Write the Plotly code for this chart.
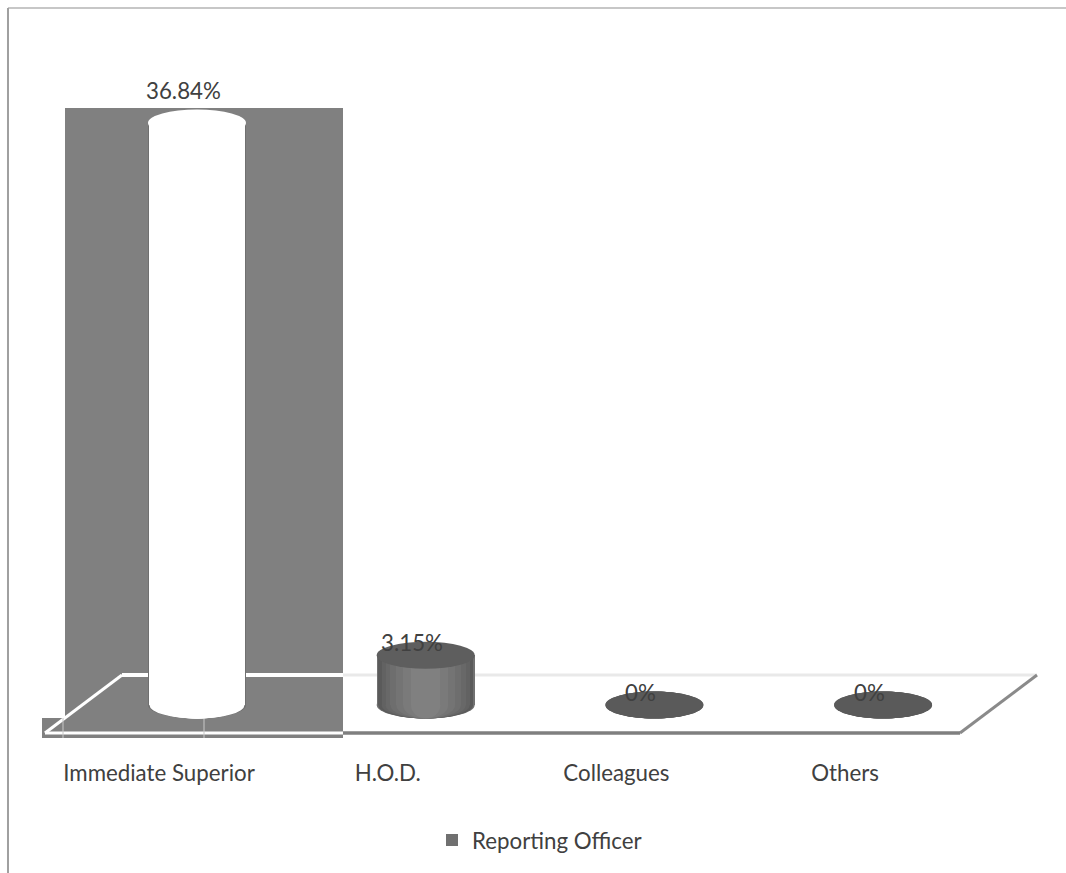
import plotly.graph_objects as go

# Survey shares by reporting line
categories = ["Immediate Superior", "H.O.D.", "Colleagues", "Others"]
shares = [36.84, 3.15, 0, 0]
series_name = "Reporting Officer"

WIDTH, HEIGHT = 1066, 873
PLOT_BOTTOM = 738          # pixel row of the plot area's lower edge
BASE_ROW = 705             # pixel row of the value 0
UNIT = 15.8                # pixels per percentage point
FIRST_COL, STEP = 197, 228.7
BAR_W = 98 / STEP
CAP = 13.5 / UNIT          # half height of a cylinder cap, in value units
FONT = "Lato"
FONT_SIZE = 22.3
INK = "#404040"


def px(col):
    return col / WIDTH


def py(row):
    return (PLOT_BOTTOM - row) / PLOT_BOTTOM


positions = list(range(len(categories)))
fig = go.Figure()

# Each cylinder body is a stack of narrowing bars, which shades it towards the middle
widths = [1.00, 0.97, 0.90, 0.82, 0.72, 0.60, 0.46, 0.30]
greys = ["#707070", "#5a5a5a", "#626262", "#686868", "#6e6e6e", "#747474", "#7a7a7a", "#808080"]
layers = [
    (scale, ["#707070"] * 4 if idx == 0 else ["#ffffff", grey, grey, grey])
    for idx, (scale, grey) in enumerate(zip(widths, greys))
]
for idx, (scale, colors) in enumerate(layers):
    fig.add_trace(go.Bar(
        x=positions, y=shares, width=BAR_W * scale,
        marker=dict(color=colors, line=dict(width=0)),
        name=series_name, showlegend=idx == 0, hoverinfo="skip",
    ))


def pixel_line(points, color, width=3):
    path = "M " + " L ".join(f"{px(c):.5f},{py(r):.5f}" for c, r in points)
    return dict(type="path", path=path, xref="paper", yref="paper",
                line=dict(color=color, width=width), layer="below")


def pixel_rect(c0, r0, c1, r1, color):
    return dict(type="rect", xref="paper", yref="paper", x0=px(c0), x1=px(c1),
                y0=py(r1), y1=py(r0), fillcolor=color, line=dict(width=0), layer="below")


shapes = [
    # back wall behind the first cylinder and its step at the lower left
    pixel_rect(65, 108, 343, 738, "#808080"),
    pixel_rect(42, 718, 65, 738, "#808080"),
    # floor outline: light on the wall, grey on the white page
    pixel_line([(343, 675), (1037, 675)], "#e9e9e9"),
    pixel_line([(343, 733), (960, 733)], "#7f7f7f", 3.5),
    pixel_line([(960, 733), (1037, 675)], "#8a8a8a", 3),
    pixel_line([(122, 675), (343, 675)], "#ffffff", 4),
    pixel_line([(45, 733), (343, 733)], "#ffffff", 3),
    pixel_line([(45, 733), (122, 675)], "#ffffff", 3),
    pixel_line([(63, 718), (63, 738)], "#c8c8c8", 1),
    pixel_line([(204, 715), (204, 738)], "#c8c8c8", 1),
    # outer frame
    pixel_line([(8, 8), (1066, 8)], "#b5b5b5", 1.5),
    pixel_line([(8, 8), (8, 873)], "#a0a0a0", 2),
]

# Elliptical caps: the base caps lie under the bars, so only their lower half shows
# and the body's shading runs on round the curve; the top caps lie over the bars
top_colors = ["#ffffff", "#5e5e5e", "#5a5a5a", "#5a5a5a"]
for pos, share, top in zip(positions, shares, top_colors):
    half = BAR_W / 2
    for scale, colors in layers:
        shapes.append(dict(type="circle", xref="x", yref="y", layer="below",
                           x0=pos - half * scale, x1=pos + half * scale,
                           y0=-CAP, y1=CAP, fillcolor=colors[pos], line=dict(width=0)))
    shapes.append(dict(type="circle", xref="x", yref="y", x0=pos - half, x1=pos + half,
                       y0=share - CAP, y1=share + CAP, fillcolor=top, line=dict(width=0)))

# Value labels sit left of centre, above each cylinder top
annotations = [
    dict(x=pos, y=share, xref="x", yref="y", text=f"{share:g}%", showarrow=False,
         xshift=-14, yshift=32 if share > 10 else 13,
         font=dict(family=FONT, size=FONT_SIZE, color=INK))
    for pos, share in zip(positions, shares)
]

fig.update_layout(
    width=WIDTH, height=HEIGHT,
    margin=dict(l=0, r=0, t=0, b=HEIGHT - PLOT_BOTTOM, autoexpand=False),
    paper_bgcolor="white", plot_bgcolor="rgba(0,0,0,0)",
    barmode="overlay", bargap=0,
    shapes=shapes, annotations=annotations,
    xaxis=dict(
        range=[-FIRST_COL / STEP, (WIDTH - FIRST_COL) / STEP],
        tickmode="array",
        tickvals=[pos - 38 / STEP for pos in positions],
        ticktext=categories,
        tickfont=dict(family=FONT, size=FONT_SIZE, color=INK),
        ticks="outside", ticklen=15, tickcolor="rgba(0,0,0,0)",
        showgrid=False, zeroline=False, showline=False,
    ),
    yaxis=dict(
        range=[(BASE_ROW - PLOT_BOTTOM) / UNIT, BASE_ROW / UNIT],
        visible=False,
    ),
    legend=dict(
        x=px(432), y=py(819), xanchor="left", yanchor="top",
        orientation="h", itemwidth=30,
        font=dict(family=FONT, size=FONT_SIZE, color=INK),
        bgcolor="rgba(0,0,0,0)",
    ),
)

fig.write_html("out.html", config={"displayModeBar": False})
